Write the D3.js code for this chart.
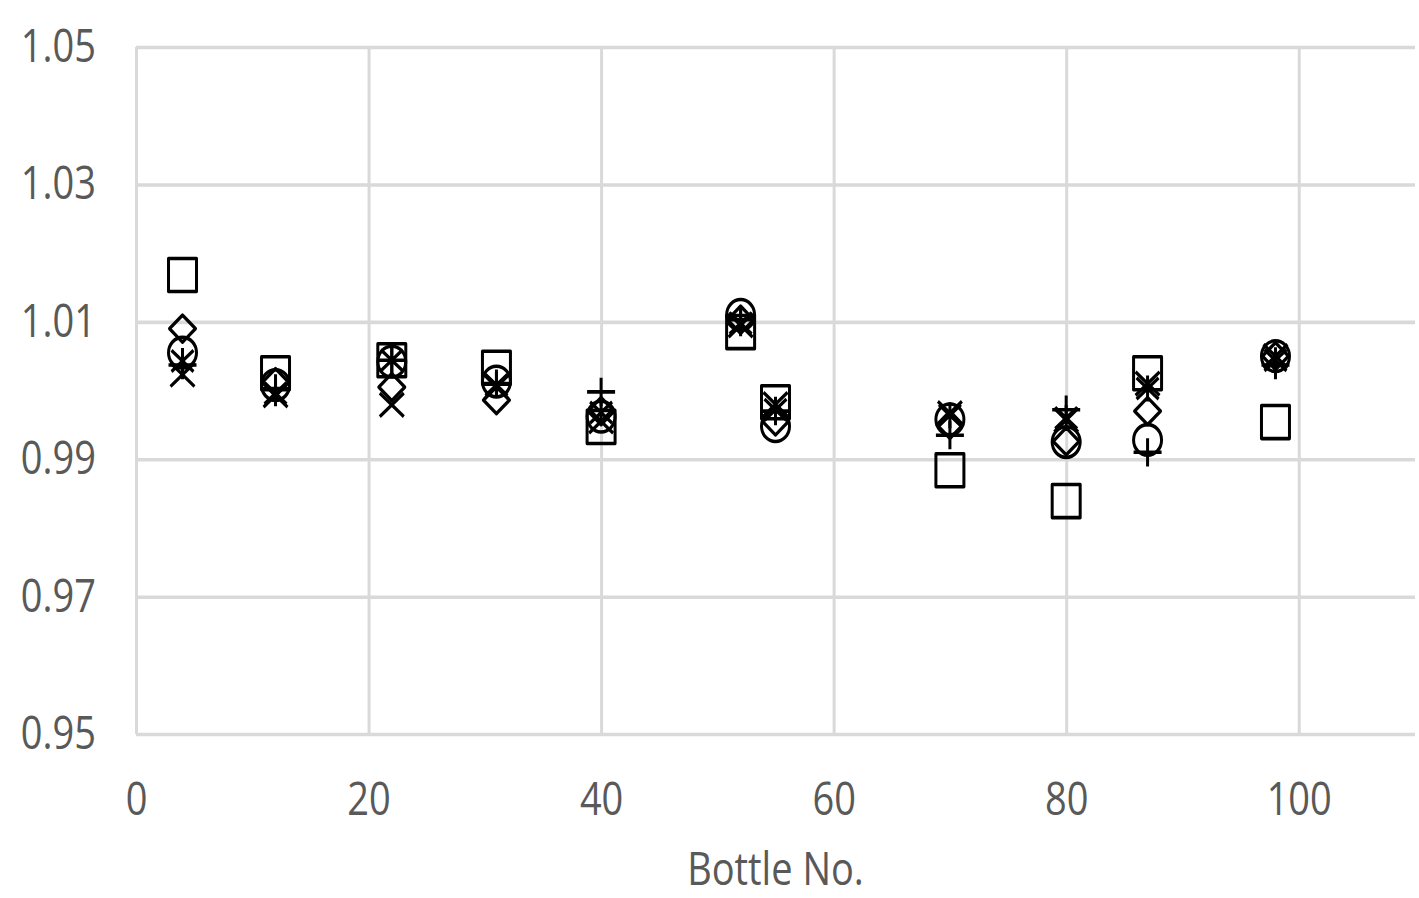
<!DOCTYPE html>
<html>
<head>
<meta charset="utf-8">
<script src="https://d3js.org/d3.v7.min.js"></script>
<style>
    html, body { margin: 0; padding: 0; background: #fff; }
    svg { display: block; }
    .tick text { font-family: 'Open Sans', sans-serif; font-size: 38px; fill: #595959; }
    .axis-title { font-family: 'Open Sans', sans-serif; font-size: 38px; fill: #595959; }
    .grid line { stroke: #d9d9d9; stroke-width: 3; }
    .grid path { display: none; }
    .marker { fill: none; stroke: #000; stroke-width: 3; stroke-linejoin: round; }
</style>
</head>
<body>
<svg id="chart"></svg>
<script>
    // bottle numbers and the six measured series (one per marker shape)
    const bottles = [4, 12, 22, 31, 40, 52, 55, 70, 80, 87, 98];
    const squareVals  = [1.0168, 1.0025, 1.0044, 1.0033, 0.9947, 1.0085, 0.9983, 0.9884, 0.9839, 1.0025, 0.9954];
    const diamondVals = [1.0090, 1.0012, 1.0005, 0.9986, 0.9970, 1.0103, 0.9955, 0.9950, 0.9926, 0.9970, 1.0050];
    const circleVals  = [1.0055, 1.0008, 1.0042, 1.0013, 0.9962, 1.0110, 0.9948, 0.9958, 0.9925, 0.9928, 1.0050];
    const crossVals   = [1.0023, 0.9993, 0.9979, 1.0005, 0.9955, 1.0095, 0.9980, 0.9967, 0.9957, 1.0010, 1.0050];
    const starVals    = [1.0043, 0.9996, 1.0044, 1.0008, 0.9968, 1.0098, 0.9972, 0.9964, 0.9960, 1.0003, 1.0044];
    const plusVals    = [1.0037, 1.0003, 1.0044, 1.0010, 0.9998, 1.0103, 0.9970, 0.9935, 0.9972, 0.9910, 1.0037];

    const xTicks = [0, 20, 40, 60, 80, 100];
    const yTicks = [0.95, 0.97, 0.99, 1.01, 1.03, 1.05];

    // the original picture is stretched vertically, so draw in a shorter
    // viewBox and let the browser stretch it to the window
    const W = 1419, H = 898, stretch = 1.18;
    const VH = H / stretch;
    const margin = { left: 136, right: 4, top: 47 / stretch, bottom: VH - 734 / stretch };

    const svg = d3.select("#chart")
        .attr("width", W).attr("height", H)
        .attr("viewBox", `0 0 ${W} ${VH}`)
        .attr("preserveAspectRatio", "none");

    const x = d3.scaleLinear().domain([0, 110]).range([margin.left, W - margin.right]);
    const y = d3.scaleLinear().domain([0.95, 1.05]).range([VH - margin.bottom, margin.top]);

    // gridlines
    svg.append("g").attr("class", "grid")
        .attr("transform", `translate(0,${y(0.95)})`)
        .call(d3.axisBottom(x).tickValues(xTicks).tickSize(-(y(0.95) - y(1.05))).tickFormat(""));
    svg.append("g").attr("class", "grid")
        .attr("transform", `translate(${x(0)},0)`)
        .call(d3.axisLeft(y).tickValues(yTicks).tickSize(-(x(110) - x(0))).tickFormat(""));

    // tick labels
    const xAxis = svg.append("g")
        .attr("transform", `translate(0,${y(0.95)})`)
        .call(d3.axisBottom(x).tickValues(xTicks).tickSize(0).tickPadding(42));
    const yAxis = svg.append("g")
        .attr("transform", `translate(${x(0)},0)`)
        .call(d3.axisLeft(y).tickValues(yTicks).tickSize(0).tickPadding(40).tickFormat(d3.format(".2f")));
    xAxis.select(".domain").remove();
    yAxis.select(".domain").remove();

    svg.append("text").attr("class", "axis-title")
        .attr("x", (x(0) + x(110)) / 2)
        .attr("y", 885 / stretch)
        .attr("text-anchor", "middle")
        .text("Bottle No.");

    // marker shapes
    const shapes = {
        square: (cx, cy) => `M${cx - 14},${cy - 14}h28v28h-28Z`,
        diamond: (cx, cy) => `M${cx},${cy - 11.5}L${cx + 13},${cy}L${cx},${cy + 11.5}L${cx - 13},${cy}Z`,
        circle: (cx, cy) => `M${cx - 14},${cy}a14,13 0 1,0 28,0a14,13 0 1,0 -28,0Z`,
        cross: (cx, cy) => `M${cx - 12},${cy - 10}L${cx + 12},${cy + 10}M${cx - 12},${cy + 10}L${cx + 12},${cy - 10}`,
        star: (cx, cy) => `M${cx - 11},${cy - 9}L${cx + 11},${cy + 9}M${cx - 11},${cy + 9}L${cx + 11},${cy - 9}M${cx},${cy - 11}V${cy + 11}`,
        plus: (cx, cy) => `M${cx - 14},${cy}H${cx + 14}M${cx},${cy - 12}V${cy + 12}`
    };

    const series = [
        { shape: "square", values: squareVals },
        { shape: "diamond", values: diamondVals },
        { shape: "circle", values: circleVals },
        { shape: "cross", values: crossVals },
        { shape: "star", values: starVals },
        { shape: "plus", values: plusVals }
    ];

    series.forEach(s => {
        svg.append("g").selectAll("path")
            .data(bottles.map((b, i) => ({ b: b, v: s.values[i] })))
            .enter()
            .append("path")
            .attr("class", "marker")
            .attr("d", d => shapes[s.shape](x(d.b), y(d.v)));
    });
</script>
</body>
</html>
